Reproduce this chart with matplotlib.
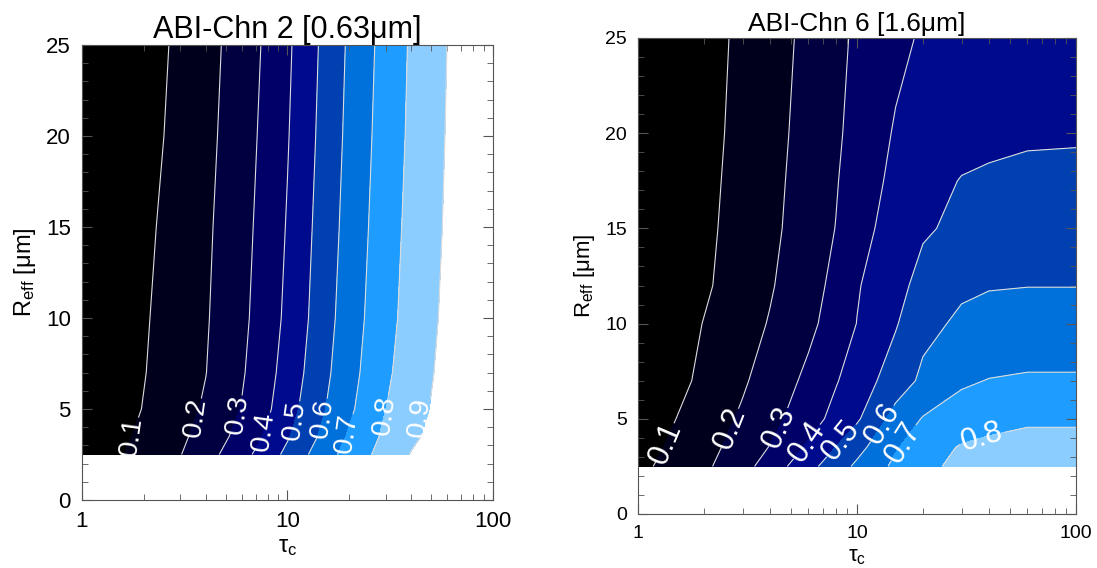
import numpy as np
import matplotlib
matplotlib.use('Agg')
import matplotlib.pyplot as plt
from matplotlib.ticker import MultipleLocator, FixedLocator

plt.rcParams['font.family'] = ['Liberation Sans', 'DejaVu Sans']
plt.rcParams['mathtext.fontset'] = 'custom'
plt.rcParams['mathtext.rm'] = 'Liberation Sans'
plt.rcParams['mathtext.it'] = 'Liberation Sans'

# --- optical thickness grid (shared by both channels) ---
tau = np.array([1, 1.5, 2, 3, 4, 6, 8, 10, 15, 20, 30, 40, 60, 100])

# --- ABI channel 2 (0.63 um) reflectance, rows = Reff ---
reff_ch2 = np.array([2.5, 3.5, 5, 7, 10, 15, 20, 25])
refl_ch2 = np.array([
    [0.03, 0.090, 0.134, 0.196, 0.261, 0.365, 0.453, 0.525, 0.655, 0.739, 0.838, 0.905, 0.970, 1.000],
    [0.02, 0.077, 0.120, 0.181, 0.237, 0.334, 0.417, 0.490, 0.622, 0.712, 0.819, 0.880, 0.954, 1.000],
    [0.01, 0.061, 0.104, 0.165, 0.212, 0.305, 0.386, 0.459, 0.593, 0.683, 0.799, 0.861, 0.939, 0.980],
    [0.00, 0.054, 0.096, 0.156, 0.198, 0.290, 0.370, 0.439, 0.574, 0.666, 0.782, 0.849, 0.930, 0.975],
    [0.00, 0.047, 0.090, 0.149, 0.191, 0.278, 0.354, 0.421, 0.557, 0.652, 0.767, 0.837, 0.921, 0.970],
    [0.00, 0.036, 0.079, 0.140, 0.183, 0.267, 0.342, 0.407, 0.543, 0.637, 0.756, 0.826, 0.912, 0.965],
    [0.00, 0.021, 0.065, 0.128, 0.173, 0.256, 0.330, 0.394, 0.530, 0.625, 0.745, 0.817, 0.906, 0.960],
    [0.00, 0.010, 0.055, 0.120, 0.165, 0.246, 0.319, 0.383, 0.520, 0.615, 0.736, 0.811, 0.901, 0.955],
])

# --- ABI channel 6 (1.6 um) reflectance, rows = Reff ---
reff_ch6 = np.array([2.5, 3.5, 5, 7, 10, 12, 15, 17.5, 20, 25])
refl_ch6 = np.array([
    [0.076, 0.137, 0.181, 0.266, 0.343, 0.469, 0.555, 0.618, 0.720, 0.778, 0.822, 0.843, 0.860, 0.860],
    [0.058, 0.121, 0.166, 0.241, 0.304, 0.415, 0.502, 0.569, 0.692, 0.750, 0.809, 0.824, 0.840, 0.840],
    [0.036, 0.101, 0.147, 0.214, 0.268, 0.358, 0.430, 0.487, 0.636, 0.706, 0.740, 0.765, 0.783, 0.783],
    [0.010, 0.074, 0.121, 0.188, 0.241, 0.322, 0.393, 0.446, 0.550, 0.619, 0.688, 0.703, 0.710, 0.710],
    [0.000, 0.060, 0.103, 0.162, 0.206, 0.277, 0.342, 0.402, 0.492, 0.574, 0.616, 0.630, 0.643, 0.643],
    [0.000, 0.043, 0.086, 0.147, 0.191, 0.263, 0.324, 0.392, 0.471, 0.530, 0.585, 0.595, 0.598, 0.598],
    [0.000, 0.038, 0.079, 0.137, 0.178, 0.247, 0.302, 0.363, 0.443, 0.489, 0.520, 0.540, 0.550, 0.550],
    [0.000, 0.033, 0.074, 0.132, 0.173, 0.240, 0.293, 0.347, 0.424, 0.458, 0.505, 0.515, 0.522, 0.523],
    [0.000, 0.028, 0.069, 0.127, 0.168, 0.233, 0.285, 0.331, 0.409, 0.430, 0.460, 0.475, 0.487, 0.490],
    [0.000, 0.022, 0.063, 0.120, 0.160, 0.223, 0.277, 0.315, 0.376, 0.411, 0.430, 0.440, 0.450, 0.450],
])

levels = [0.0, 0.1, 0.2, 0.3, 0.4, 0.5, 0.6, 0.7, 0.8, 0.9]
band_colors = ['#000000', '#00001c', '#000040', '#000068', '#000a8c',
               '#0040b0', '#0070da', '#1e9cff', '#8ccdff']

# contour label anchors (tau, Reff), one per labelled level
labels_ch2 = {0.1: (1.75, 3.5), 0.2: (3.43, 4.6), 0.3: (5.17, 4.85),
              0.4: (6.97, 3.9), 0.5: (9.76, 4.5), 0.6: (12.9, 4.67),
              0.7: (17.7, 3.8), 0.8: (26.7, 4.76), 0.9: (41.9, 4.67)}
labels_ch6 = {0.1: (1.15, 4.0), 0.2: (2.37, 4.7), 0.3: (3.92, 4.8),
              0.4: (5.2, 4.15), 0.5: (7.5, 4.3), 0.6: (11.5, 5.1),
              0.7: (14.9, 4.0), 0.8: (36.5, 4.25)}

tau_major = [1, 10, 100]
tau_minor = [2, 3, 4, 5, 6, 7, 8, 9, 20, 30, 40, 50, 60, 70, 80, 90]


def draw_panel(ax, reff, refl, title, label_pos, fs_title, fs_tick, fs_lab,
               fs_clab, clab_rot=None):
    # contours are computed in log10(tau) so interpolation follows the log axis
    X, Y = np.meshgrid(np.log10(tau), reff)
    ax.contourf(X, Y, refl, levels=levels, colors=band_colors)
    for lev in sorted(label_pos):
        cs = ax.contour(X, Y, refl, levels=[lev], colors='#dcdcdc', linewidths=0.8)
        t, r = label_pos[lev]
        txt = ax.clabel(cs, fmt='%.1f', fontsize=fs_clab, colors='white',
                        inline=True, inline_spacing=2, manual=[(np.log10(t), r)])
        for tx in txt:
            if clab_rot is not None:
                tx.set_rotation(clab_rot)
            # the top level label sits just inside the last filled band
            if lev == levels[-1]:
                x0, y0 = tx.get_position()
                tx.set_position((x0 - 0.035, y0))

    ax.set_xlim(0, 2)
    ax.set_ylim(0, 25)
    ax.xaxis.set_major_locator(FixedLocator(np.log10(tau_major)))
    ax.set_xticklabels([str(t) for t in tau_major])
    ax.xaxis.set_minor_locator(FixedLocator(np.log10(tau_minor)))
    ax.yaxis.set_major_locator(MultipleLocator(5))
    ax.yaxis.set_minor_locator(MultipleLocator(1))
    ax.tick_params(which='both', direction='in', top=True, right=True,
                   color='#555555', labelsize=fs_tick, pad=8)
    ax.tick_params(which='major', length=7)
    ax.tick_params(which='minor', length=4)
    for sp in ax.spines.values():
        sp.set_color('#555555')
    ax.set_title(title, fontsize=fs_title, pad=5)
    ax.set_xlabel(r'$\tau_{\rm c}$', fontsize=fs_lab, labelpad=3)
    ax.set_ylabel(r'R$_{\rm eff}$ [μm]', fontsize=fs_lab, labelpad=6)


fig = plt.figure(figsize=(10.97, 5.68), dpi=100)
ax1 = fig.add_axes([0.0747, 0.1197, 0.3747, 0.801])
ax2 = fig.add_axes([0.5816, 0.0951, 0.3993, 0.838])

draw_panel(ax1, reff_ch2, refl_ch2, 'ABI-Chn 2 [0.63μm]', labels_ch2, 22, 16, 17, 20.5,
           clab_rot=82)
draw_panel(ax2, reff_ch6, refl_ch6, 'ABI-Chn 6 [1.6μm]', labels_ch6, 19, 14, 16, 22)

fig.savefig('out.png', dpi=100)
